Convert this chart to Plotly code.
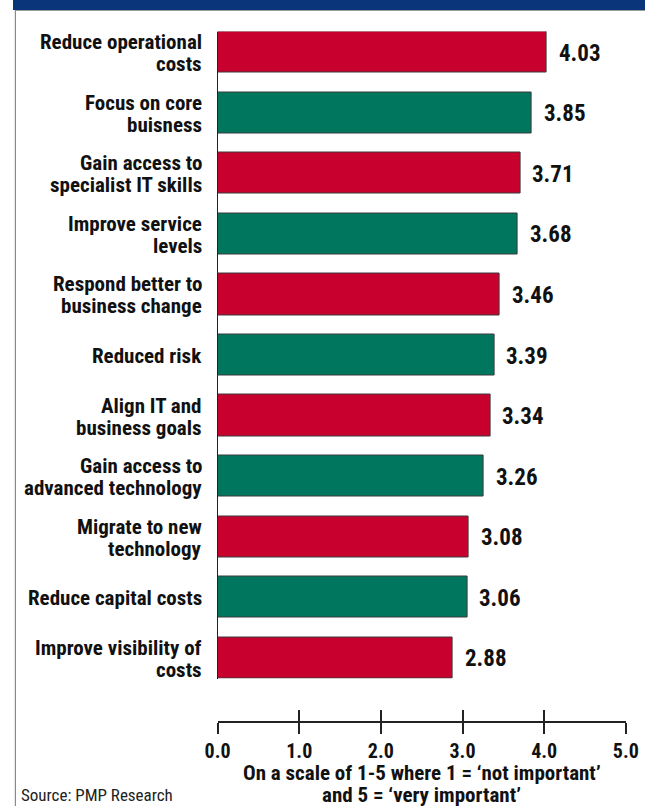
import plotly.graph_objects as go

# Reasons for outsourcing, ranked by mean importance score
reasons = [
    "Reduce operational<br>costs",
    "Focus on core<br>buisness",
    "Gain access to<br>specialist IT skills",
    "Improve service<br>levels",
    "Respond better to<br>business change",
    "Reduced risk",
    "Align IT and<br>business goals",
    "Gain access to<br>advanced technology",
    "Migrate to new<br>technology",
    "Reduce capital costs",
    "Improve visibility of<br>costs",
]
scores = [4.03, 3.85, 3.71, 3.68, 3.46, 3.39, 3.34, 3.26, 3.08, 3.06, 2.88]
tick_values = [0, 1, 2, 3, 4, 5]
tick_labels = ["0.0", "1.0", "2.0", "3.0", "4.0", "5.0"]
caption_lines = [
    "On a scale of 1-5 where 1 = \u2018not important\u2019",
    "and 5 = \u2018very important\u2019",
]

RED = "#C8002E"
GREEN = "#00765F"
bar_colors = [RED if i % 2 == 0 else GREEN for i in range(len(scores))]

FONT = "Liberation Sans Narrow, Roboto Condensed, Arial Narrow, Liberation Sans, sans-serif"
W, H = 658, 806
BAR_W = 0.68
LINE_GAP = 22  # px between lines of a category label

positions = list(range(len(reasons)))

fig = go.Figure()
fig.add_trace(go.Bar(
    x=scores,
    y=positions,
    orientation="h",
    width=BAR_W,
    marker=dict(color=bar_colors, line=dict(color="#3a3a3a", width=1)),
    hoverinfo="skip",
    xaxis="x",
    yaxis="y",
))

# Value labels at the end of each bar
for p, s in zip(positions, scores):
    fig.add_annotation(
        x=s, y=p, xref="x", yref="y",
        text=f"<b>{s:.2f}</b>",
        showarrow=False, xanchor="left", xshift=10, yshift=-1,
        font=dict(family=FONT, size=23, color="#111111"),
    )

# Pixel layout helpers (paper coords with zero margins)
def py(px):
    return 1 - px / H

def pxx(px):
    return px / W

# Category labels, right-aligned beside the bars, with tight line spacing
for p, label in zip(positions, reasons):
    lines = label.split("<br>")
    n = len(lines)
    for i, ln in enumerate(lines):
        fig.add_annotation(
            x=pxx(199), y=p, xref="paper", yref="y",
            text=f"<b>{ln}</b>",
            showarrow=False, xanchor="right", yanchor="middle",
            yshift=((n - 1) / 2 - i) * LINE_GAP - 1,
            font=dict(family=FONT, size=21, color="#111111"),
        )

bar_top, bar_bottom = 31.5, 678.5
axis_y = 722

xaxis_common = dict(
    range=[0, 5],
    domain=[pxx(213), pxx(638)],
    anchor="free",
    position=py(axis_y),
    showgrid=False,
    zeroline=False,
    showline=True,
    linecolor="#222222",
    linewidth=1.5,
    tickvals=tick_values,
    ticklen=11,
    tickwidth=1.5,
    tickcolor="#222222",
)

fig.update_layout(
    width=W, height=H,
    margin=dict(l=0, r=0, t=0, b=0),
    paper_bgcolor="white",
    plot_bgcolor="white",
    showlegend=False,
    bargap=0,
    xaxis=dict(
        **xaxis_common,
        ticks="outside",
        ticktext=[f"<b>{t}</b>" for t in tick_labels],
        tickfont=dict(family=FONT, size=20, color="#111111"),
    ),
    xaxis2=dict(
        **xaxis_common,
        overlaying="x",
        side="bottom",
        ticks="inside",
        showticklabels=False,
    ),
    yaxis=dict(
        range=[len(reasons) - 1 + BAR_W / 2, -BAR_W / 2],
        domain=[py(bar_bottom), py(bar_top)],
        anchor="x",
        showgrid=False,
        zeroline=False,
        showline=True,
        linecolor="#222222",
        linewidth=1,
        showticklabels=False,
        ticks="",
    ),
)

# Keep the overlay axis drawn by attaching an invisible trace
fig.add_trace(go.Scatter(x=[0], y=[0], xaxis="x2", yaxis="y", mode="markers",
                         marker=dict(opacity=0), hoverinfo="skip", showlegend=False))

# Axis caption, one annotation per line
for line_text, line_y in zip(caption_lines, [773, 795]):
    fig.add_annotation(
        x=(pxx(213) + pxx(638)) / 2, y=py(line_y), xref="paper", yref="paper",
        text=f"<b>{line_text}</b>",
        showarrow=False, xanchor="center", yanchor="middle",
        font=dict(family=FONT, size=21, color="#111111"),
    )

# Source note
fig.add_annotation(
    x=pxx(6), y=py(795), xref="paper", yref="paper",
    text="Source: PMP Research",
    showarrow=False, xanchor="left", yanchor="middle",
    font=dict(family=FONT, size=17, color="#222222"),
)

# Header band and frame
fig.add_shape(type="rect", xref="paper", yref="paper",
              x0=0, x1=1, y0=py(10), y1=1,
              fillcolor="#0B357A", line=dict(width=0), layer="above")
fig.add_shape(type="line", xref="paper", yref="paper",
              x0=pxx(2.5), x1=pxx(2.5), y0=0, y1=py(10),
              line=dict(color="#8a8a8a", width=1.2))
fig.add_shape(type="line", xref="paper", yref="paper",
              x0=pxx(2.5), x1=1, y0=py(10.5), y1=py(10.5),
              line=dict(color="#9a9a9a", width=1))

fig.write_html("out.html")
